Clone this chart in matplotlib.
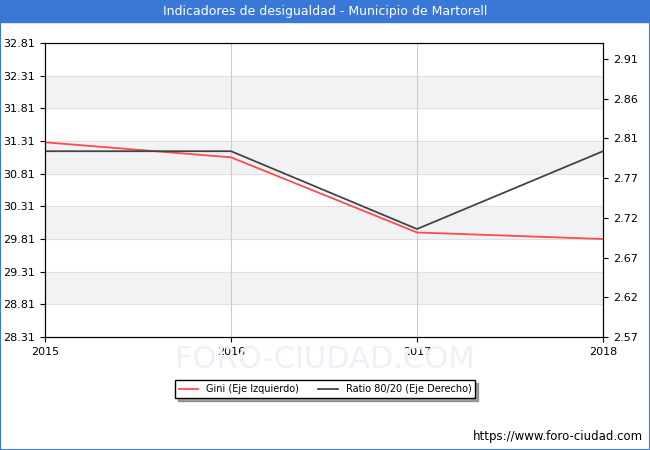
import numpy as np
import matplotlib.pyplot as plt

years = [2015, 2016, 2017, 2018]
gini = [31.29, 31.06, 29.91, 29.81]
ratio = [2.804, 2.804, 2.706, 2.804]
left_ticks = [28.31, 28.81, 29.31, 29.81, 30.31, 30.81, 31.31, 31.81, 32.31, 32.81]
right_labels = ["2.57", "2.62", "2.67", "2.72", "2.77", "2.81", "2.86", "2.91"]

fig = plt.figure(figsize=(6.5, 4.5), dpi=100)
fig.patches.append(plt.Rectangle((0, 0), 1, 1, transform=fig.transFigure,
                                 fill=False, edgecolor='#3a78d8', lw=1.5))
fig.patches.append(plt.Rectangle((0, 1 - 22 / 450), 1, 22 / 450, transform=fig.transFigure,
                                 color='#3a78d8'))
fig.text(0.5, 1 - 11 / 450, 'Indicadores de desigualdad - Municipio de Martorell',
         color='white', ha='center', va='center', fontsize=9)

# faint watermark, kept below the tick labels
fig.text(0.5, 1 - 360 / 450, 'FORO-CIUDAD.COM', color='#eef0f8', fontsize=22,
         ha='center', va='center', zorder=0)

ax = fig.add_axes([45 / 650, 1 - 337 / 450, 558 / 650, 294 / 450])
ax.set_xlim(2015, 2018)
ax.set_ylim(28.31, 32.81)
for i in range(1, len(left_ticks) - 1, 2):
    ax.axhspan(left_ticks[i], left_ticks[i + 1], color='#f2f2f2', zorder=0)
for t in left_ticks:
    ax.axhline(t, color='#dddddd', lw=0.6, zorder=0)
for x in years[1:-1]:
    ax.axvline(x, color='#cccccc', lw=0.8, zorder=0)
ax.set_yticks(left_ticks)
ax.set_yticklabels([f'{t:.2f}' for t in left_ticks])
ax.set_xticks(years)
ax.tick_params(labelsize=8)
l1, = ax.plot(years, gini, color='#ff4b4b', lw=1.3)

ax2 = ax.twinx()
ax2.set_ylim(2.57, 2.57 + 294 / 39.7 * 0.05)
ax2.set_yticks([2.57 + i * 0.05 for i in range(8)])
ax2.set_yticklabels(right_labels)
ax2.tick_params(labelsize=8)
l2, = ax2.plot(years, ratio, color='#444444', lw=1.3)

leg = fig.legend([l1, l2], ['Gini (Eje Izquierdo)', 'Ratio 80/20 (Eje Derecho)'],
                 loc='center', bbox_to_anchor=(0.5, 1 - 389 / 450), ncol=2,
                 fontsize=7, frameon=True, fancybox=False, shadow=True,
                 edgecolor='black')
fig.text(0.99, 0.03, 'https://www.foro-ciudad.com', ha='right', va='center', fontsize=8.5)
fig.savefig('out.png')
